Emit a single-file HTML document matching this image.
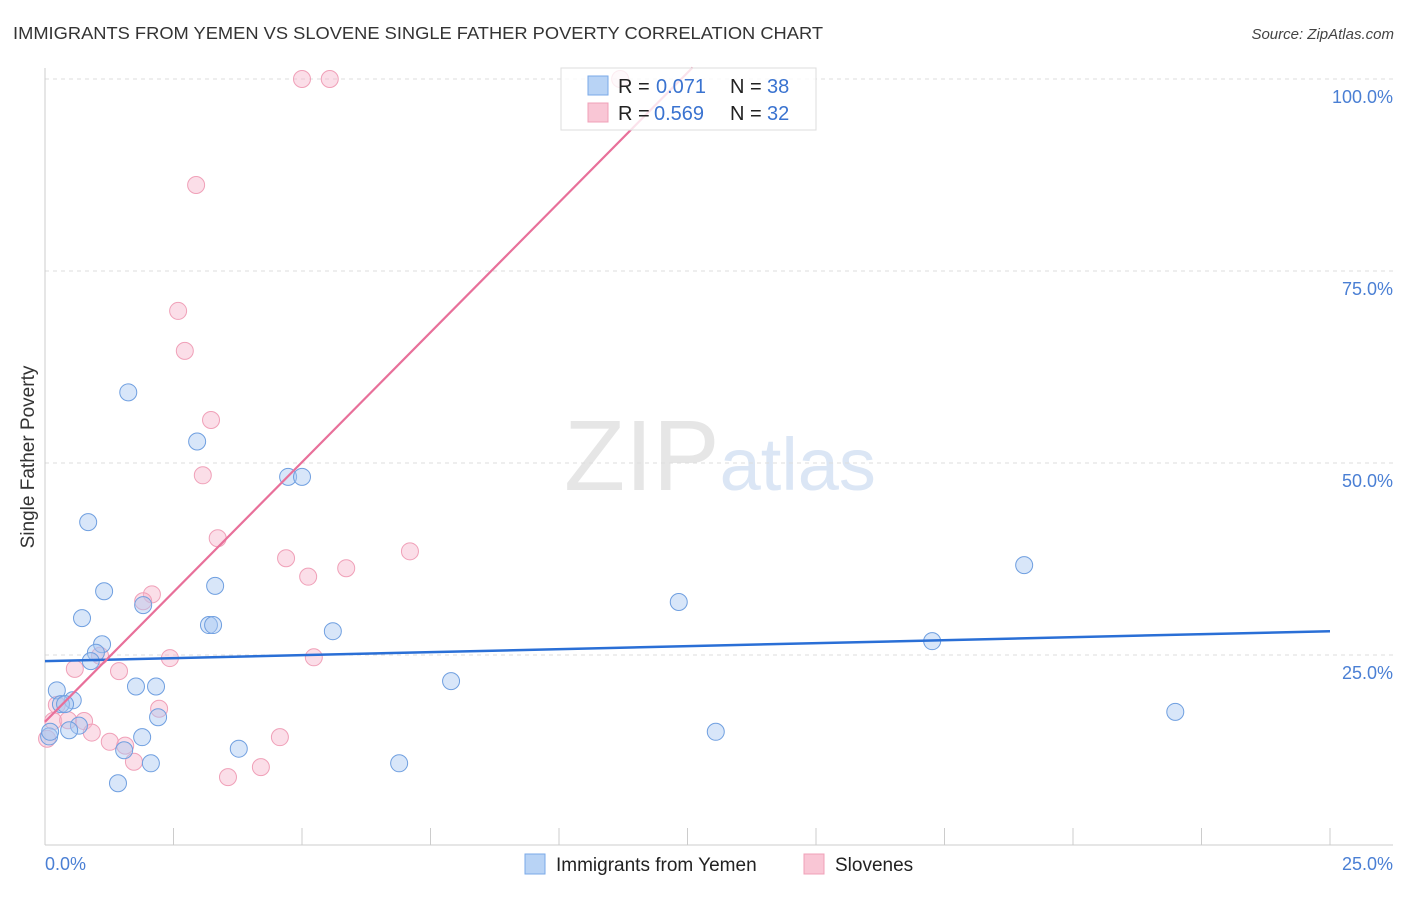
<!DOCTYPE html>
<html><head><meta charset="utf-8"><style>
body{margin:0;background:#fff;font-family:"Liberation Sans",sans-serif;}
svg text{font-family:"Liberation Sans",sans-serif;}
</style></head><body>
<svg width="1406" height="892" xmlns="http://www.w3.org/2000/svg">
<text x="13" y="39" font-size="17.5" fill="#333" textLength="810" lengthAdjust="spacingAndGlyphs">IMMIGRANTS FROM YEMEN VS SLOVENE SINGLE FATHER POVERTY CORRELATION CHART</text>
<text x="1394" y="39" font-size="15" fill="#444" text-anchor="end" font-style="italic">Source: ZipAtlas.com</text>
<text x="720" y="490" font-size="100" text-anchor="middle" fill="#e6e6e6" font-family="Liberation Serif">ZIP<tspan fill="#dbe6f5" font-family="Liberation Sans" font-size="74">atlas</tspan></text>
<g id="grid"></g>
<g id="axes"></g>
<text transform="translate(34,457) rotate(-90)" font-size="19" fill="#333" text-anchor="middle">Single Father Poverty</text>
<g id="marks"></g>
<g>
<rect x="561" y="68" width="255" height="62" fill="#fff" fill-opacity="0.8" stroke="#ddd"/>
<rect x="588" y="76" width="20" height="19" fill="#b8d3f5" stroke="#7aaae8"/>
<rect x="588" y="103" width="20" height="19" fill="#f9c6d5" stroke="#f0a0b8"/>
<text x="618" y="93" font-size="20" fill="#222">R =</text>
<text x="656" y="93" font-size="20" fill="#3a73d0">0.071</text>
<text x="730" y="93" font-size="20" fill="#222">N =</text>
<text x="767" y="93" font-size="20" fill="#3a73d0">38</text>
<text x="618" y="120" font-size="20" fill="#222">R =</text>
<text x="654" y="120" font-size="20" fill="#3a73d0">0.569</text>
<text x="730" y="120" font-size="20" fill="#222">N =</text>
<text x="767" y="120" font-size="20" fill="#3a73d0">32</text>
</g>
<g>
<rect x="525" y="854" width="20" height="20" fill="#b8d3f5" stroke="#7aaae8"/>
<text x="556" y="871" font-size="19" fill="#222">Immigrants from Yemen</text>
<rect x="804" y="854" width="20" height="20" fill="#f9c6d5" stroke="#f0a0b8"/>
<text x="835" y="871" font-size="19" fill="#222">Slovenes</text>
</g>
</svg>
<script>
const yTicks=[25,50,75,100];
const xTickLabels=["0.0%","25.0%"];
const blueX=[1.62,2.96,4.73,5.0,0.84,1.15,3.31,0.72,1.91,3.19,3.27,5.6,1.11,0.99,0.89,0.23,1.77,2.16,0.54,0.31,0.39,2.2,0.66,0.47,0.08,1.89,1.54,3.77,2.06,1.42,7.9,6.89,12.33,13.05,17.26,19.05,21.99,0.1];
const blueY=[59.2,52.8,48.2,48.2,42.3,33.3,34.0,29.8,31.5,28.9,28.9,28.1,26.4,25.3,24.2,20.4,20.9,20.9,19.1,18.6,18.6,16.9,15.8,15.2,14.4,14.3,12.6,12.8,10.9,8.3,21.6,10.9,31.9,15.0,26.8,36.7,17.6,15.0];
const pinkX=[5.0,5.54,2.94,2.59,2.72,3.23,3.07,3.36,4.69,5.12,5.86,7.1,2.08,1.91,2.43,5.23,0.58,1.44,1.07,0.23,0.16,0.45,0.76,0.91,2.22,1.26,1.56,1.73,4.57,3.56,4.2,0.04,11.19];
const pinkY=[100,100,86.2,69.8,64.6,55.6,48.4,40.2,37.6,35.2,36.3,38.5,32.9,32.0,24.6,24.7,23.2,22.9,24.9,18.5,16.4,16.5,16.4,14.9,18.0,13.7,13.2,11.1,14.3,9.1,10.4,14.1,100];
const blueLine=[[0,24.2],[25,28.1]];
const pinkLine=[[0,16.3],[12.6,101.5]];
const X=v=>45+v/25*1285, Y=v=>847-v/100*768;
const NS="http://www.w3.org/2000/svg";
function mk(p,t,a){const e=document.createElementNS(NS,t);for(const k in a)e.setAttribute(k,a[k]);document.getElementById(p).appendChild(e);return e;}
yTicks.forEach(t=>{
 const g=mk('grid','line',{x1:45,x2:1393,y1:Y(t),y2:Y(t),stroke:'#ddd','stroke-dasharray':'4,4'});
 
 
 const l=mk('axes','text',{x:1393,y:Y(t)+24,'font-size':18,fill:'#4a7fd4','text-anchor':'end'});
 l.textContent=t.toFixed(1)+'%';
 
 
});
const ax=mk('axes','line',{x1:45,x2:1393,y1:845,y2:845,stroke:'#ccc'});


const ay=mk('axes','line',{x1:45,x2:45,y1:68,y2:845,stroke:'#ccc'});


for(let i=0;i<=10;i++){const t=mk('axes','line',{x1:X(i*2.5),x2:X(i*2.5),y1:828,y2:845,stroke:'#ccc'});
 
 }
const l0=mk('axes','text',{x:45,y:870,'font-size':18,fill:'#4a7fd4'});l0.textContent=xTickLabels[0];


const l1=mk('axes','text',{x:1393,y:870,'font-size':18,fill:'#4a7fd4','text-anchor':'end'});l1.textContent=xTickLabels[1];


pinkX.forEach((x,i)=>{const c=mk('marks','circle',{cx:X(x),cy:Y(pinkY[i]),r:8.5,fill:'#f7b6cb','fill-opacity':0.45,stroke:'#f0a0b8'});
 
 });
blueX.forEach((x,i)=>{const c=mk('marks','circle',{cx:X(x),cy:Y(blueY[i]),r:8.5,fill:'#a8c8f2','fill-opacity':0.45,stroke:'#6f9fe0'});
 
 });
const bl=mk('marks','line',{x1:X(blueLine[0][0]),y1:Y(blueLine[0][1]),x2:X(blueLine[1][0]),y2:Y(blueLine[1][1]),stroke:'#2a6fd6','stroke-width':2.5});


const pl=mk('marks','line',{x1:X(pinkLine[0][0]),y1:Y(pinkLine[0][1]),x2:X(pinkLine[1][0]),y2:Y(pinkLine[1][1]),stroke:'#e8709a','stroke-width':2.2});


</script>
</body></html>
